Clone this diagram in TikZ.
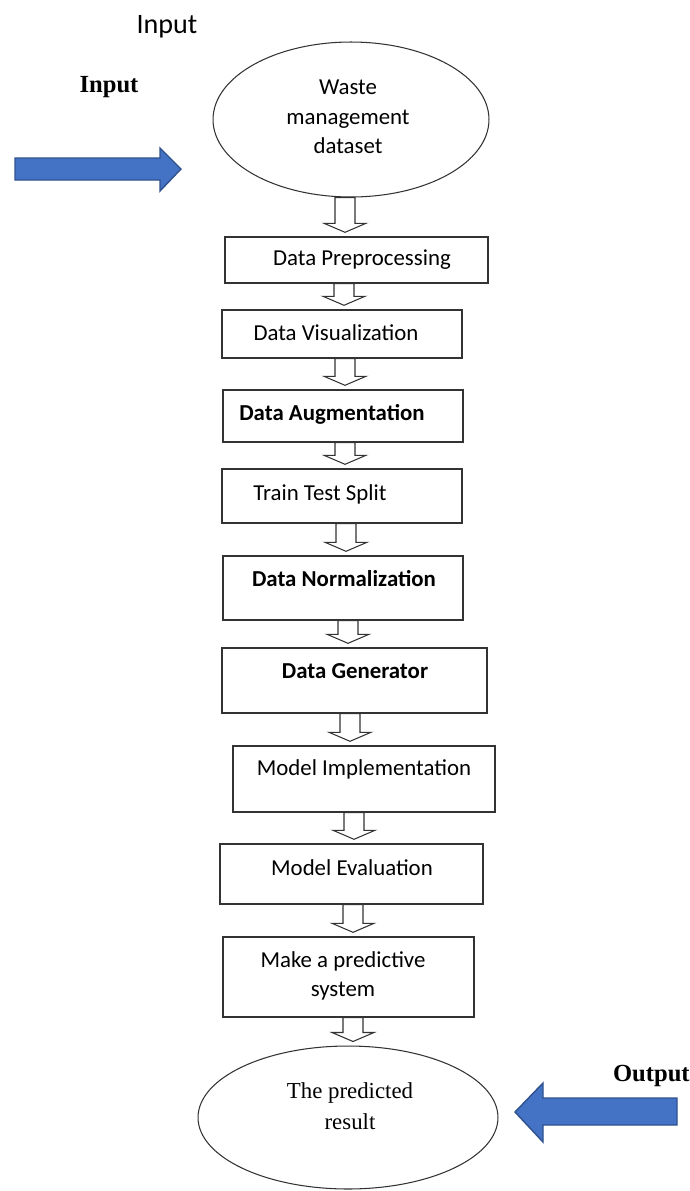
\documentclass[tikz,border=0pt]{standalone}
\usepackage{fontspec}
\setmainfont{Liberation Serif}
\newfontfamily\calibfont{Carlito}
\usepackage{tikz}
\usetikzlibrary{shapes.geometric}
\usetikzlibrary{calc}

\definecolor{arrowblue}{HTML}{4472C4}
\definecolor{arrowedge}{HTML}{2F528F}

\tikzset{
	box/.style={draw=black!80, line width=0.8pt, inner sep=0pt},
	oval/.style={draw=black!80, ellipse, line width=0.6pt, inner sep=0pt},
	boxtext/.style={font=\calibfont\fontsize{13}{16.5}\selectfont, inner sep=0pt, anchor=mid, align=center},
	boldtext/.style={boxtext, font=\calibfont\bfseries\fontsize{13}{16.5}\selectfont},
	hollow/.style={draw=black!80, fill=white, line width=0.6pt, line join=miter},
	bluearrow/.style={fill=arrowblue, draw=arrowedge, line width=0.8pt, line join=miter}
}

\newcommand{\hollowdown}[3]{
	\draw[hollow] let \p1=(#2.south), \p2=(#3.north), \p3=(#1,0) in
		(\x3-0.2cm,\y1) -- (\x3-0.2cm,\y2+0.26cm) -- (\x3-0.42cm,\y2+0.26cm) -- (\x3,\y2+0.08cm)
		-- (\x3+0.42cm,\y2+0.26cm) -- (\x3+0.2cm,\y2+0.26cm) -- (\x3+0.2cm,\y1) -- cycle;
}

\begin{document}
\begin{tikzpicture}[x=0.02cm, y=-0.02cm]
			\useasboundingbox (0,0) rectangle (690,1191);
			
			\node[font=\calibfont\fontsize{16}{19}\selectfont, inner sep=0pt] (toplabel) at (167,27) {Input};
			\node[font=\bfseries\fontsize{14}{17}\selectfont, inner sep=0pt] (inlabel) at (109,87) {Input};
			\node[font=\bfseries\fontsize{14}{17}\selectfont, inner sep=0pt, anchor=east] (outlabel) at (690,1076) {Output};
			
			\node[oval, minimum width=5.52cm, minimum height=3.1cm] (dataset) at (351,119.5) {};
			\node[boxtext, anchor=center, font=\calibfont\fontsize{13}{16.8}\selectfont] (datasettxt) at (348,117) {Waste\\management\\dataset};
			
			\node[box, minimum width=5.26cm, minimum height=0.92cm] (prep) at (356.5,260) {};
			\node[boxtext] (preptxt) at (362,261) {Data Preprocessing};
			\node[box, minimum width=4.8cm, minimum height=0.96cm] (vis) at (342,334) {};
			\node[boxtext] (vistxt) at (336,336) {Data Visualization};
			\node[box, minimum width=4.8cm, minimum height=1.04cm] (aug) at (343,416) {};
			\node[boldtext] (augtxt) at (332,416) {Data Augmentation};
			\node[box, minimum width=4.8cm, minimum height=1.08cm] (split) at (342,496) {};
			\node[boxtext] (splittxt) at (320,496) {Train Test Split};
			\node[box, minimum width=4.8cm, minimum height=1.28cm] (norm) at (343,588) {};
			\node[boldtext] (normtxt) at (344,582) {Data Normalization};
			\node[box, minimum width=5.3cm, minimum height=1.3cm] (gen) at (354.5,680.5) {};
			\node[boldtext] (gentxt) at (355,674) {Data Generator};
			\node[box, minimum width=5.24cm, minimum height=1.32cm] (impl) at (364,779) {};
			\node[boxtext] (impltxt) at (364,771) {Model Implementation};
			\node[box, minimum width=5.26cm, minimum height=1.2cm] (eval) at (351.5,874) {};
			\node[boxtext] (evaltxt) at (352,871) {Model Evaluation};
			\node[box, minimum width=5.02cm, minimum height=1.6cm] (pred) at (348.5,977) {};
			\node[boxtext, anchor=center] (predtxt) at (343,976) {Make a predictive\\system};
			
			\node[oval, minimum width=6cm, minimum height=2.86cm] (result) at (348,1117.5) {};
			\node[font=\fontsize{13}{18}\selectfont, inner sep=0pt, align=center] (resulttxt) at (350,1106) {The predicted\\result};
			
			\hollowdown{345}{dataset}{prep}
			\hollowdown{344}{prep}{vis}
			\hollowdown{345}{vis}{aug}
			\hollowdown{345}{aug}{split}
			\hollowdown{346}{split}{norm}
			\hollowdown{348}{norm}{gen}
			\hollowdown{350}{gen}{impl}
			\hollowdown{354}{impl}{eval}
			\hollowdown{353}{eval}{pred}
			\hollowdown{353}{pred}{result}
			
			\draw[bluearrow] (15,158) -- (160,158) -- (160,148) -- (181,169) -- (160,191) -- (160,180) -- (15,180) -- cycle;
			\draw[bluearrow] (677,1098) -- (543,1098) -- (543,1083) -- (515,1112) -- (543,1142) -- (543,1125) -- (677,1125) -- cycle;
			
		\end{tikzpicture}
\end{document}
